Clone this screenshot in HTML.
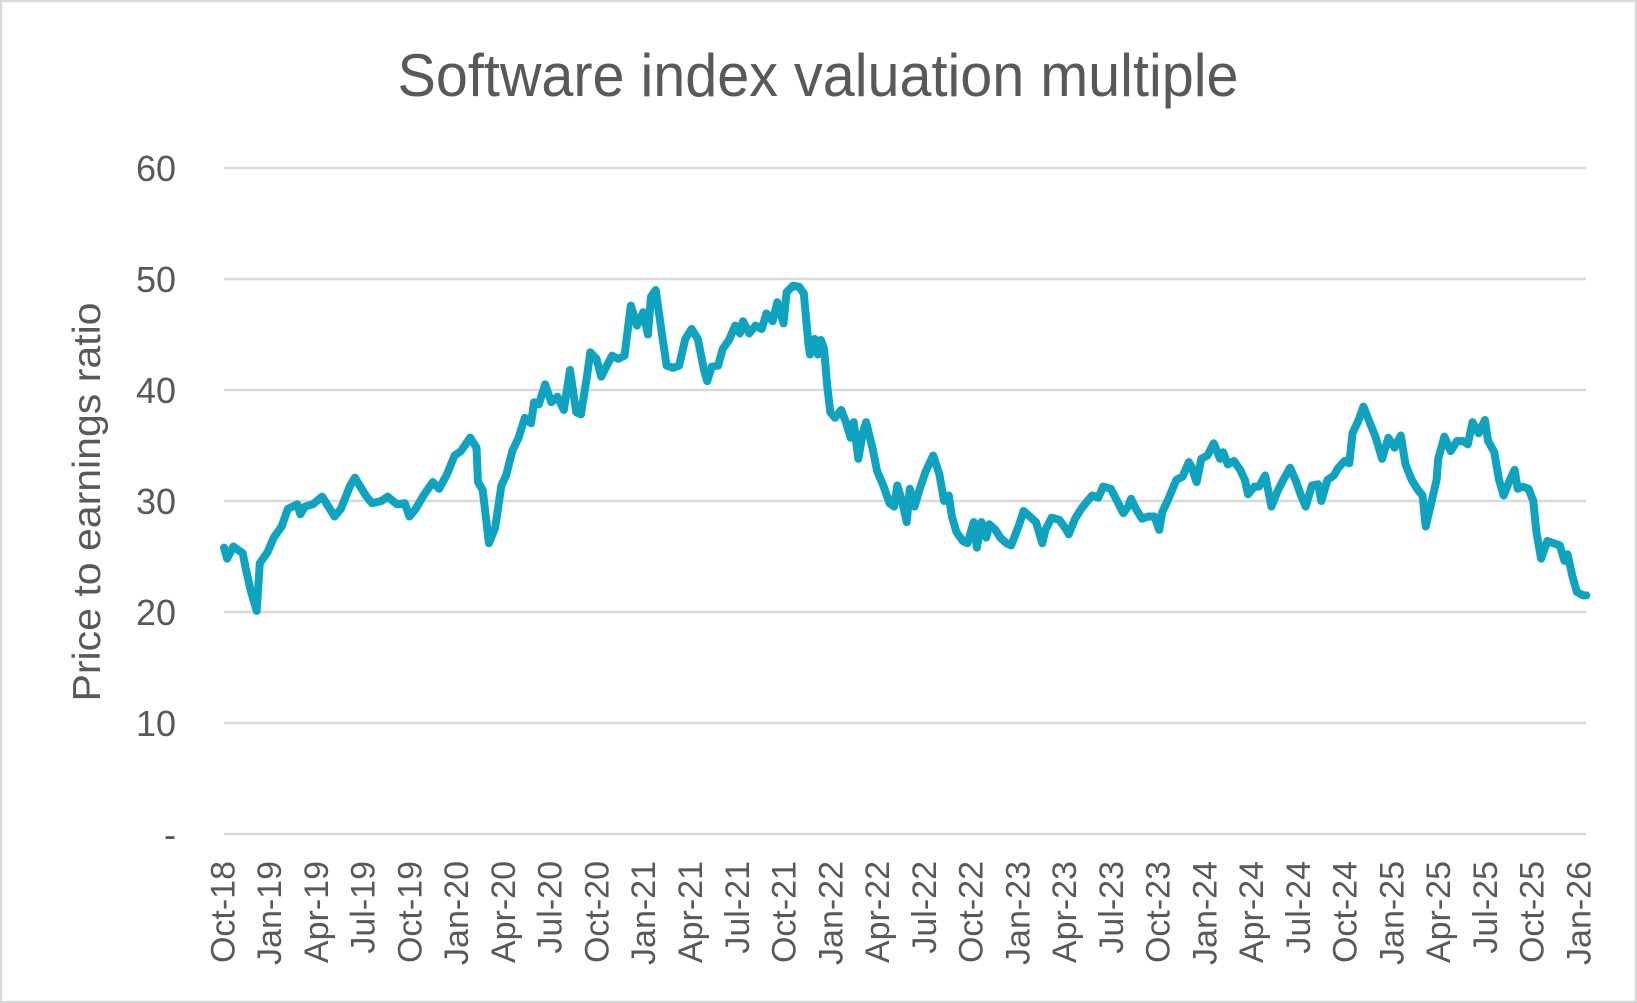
<!DOCTYPE html>
<html><head><meta charset="utf-8"><style>
html,body{margin:0;padding:0;background:#fff}
svg{display:block}
text{font-family:"Liberation Sans",sans-serif;fill:#595959}
</style></head><body>
<svg id="chart" width="1637" height="1003" viewBox="0 0 1637 1003" xmlns="http://www.w3.org/2000/svg">
<rect x="1" y="1" width="1635" height="1001" fill="#fff" stroke="#d9d9d9" stroke-width="2.5"/>
<text x="818" y="96" font-size="60" text-anchor="middle" textLength="841" lengthAdjust="spacingAndGlyphs">Software index valuation multiple</text>
<text transform="translate(100,502) rotate(-90)" font-size="39" text-anchor="middle" textLength="399" lengthAdjust="spacingAndGlyphs">Price to earnings ratio</text>
<g id="grid"></g>
<g id="yticks"></g>
<g id="xticks"></g>
<g id="series"></g>
</svg>
<script>
// months since Oct-2018
const months = [0.1,0.3,0.7,1.3,1.5,1.8,2.2,2.4,2.9,3.3,3.8,4.2,4.8,5.0,5.3,5.8,6.4,6.8,7.2,7.6,8.2,8.5,8.8,9.2,9.6,10.2,10.6,11.2,11.7,12.0,12.4,12.9,13.5,13.9,14.4,14.9,15.3,15.9,16.3,16.4,16.7,17.1,17.5,17.9,18.2,18.6,19.0,19.4,19.8,20.0,20.3,20.7,21.1,21.5,21.9,22.3,22.7,23.0,23.4,23.6,24.0,24.3,24.7,25.0,25.4,25.8,26.2,26.6,27.0,27.3,27.5,27.8,28.2,28.5,28.9,29.3,29.7,30.1,30.5,30.9,31.1,31.4,31.8,32.1,32.5,32.9,33.2,33.4,33.8,34.2,34.6,34.9,35.3,35.6,36.0,36.2,36.6,37.0,37.3,37.6,37.7,38.0,38.2,38.4,38.6,38.8,39.0,39.3,39.7,40.0,40.3,40.5,40.8,41.1,41.3,41.7,42.0,42.4,42.8,43.1,43.3,43.6,43.9,44.1,44.4,44.7,45.1,45.6,46.0,46.3,46.6,46.8,47.1,47.5,47.8,48.2,48.4,48.7,49.0,49.2,49.6,49.9,50.3,50.6,50.8,51.1,51.4,51.8,52.2,52.6,52.8,53.2,53.7,54.1,54.3,54.7,55.1,55.5,55.8,56.2,56.5,57.0,57.4,57.8,58.1,58.3,58.6,59.0,59.4,59.8,60.1,60.3,60.7,61.2,61.6,62.0,62.2,62.5,62.8,63.2,63.6,64.0,64.2,64.5,64.9,65.3,65.6,65.8,66.2,66.5,66.9,67.3,67.7,68.1,68.5,68.9,69.2,69.5,69.9,70.3,70.5,70.9,71.3,71.6,72.0,72.3,72.5,72.9,73.2,73.6,74.0,74.4,74.8,75.2,75.6,75.9,76.3,76.7,77.0,77.2,77.5,77.9,78.0,78.4,78.8,79.2,79.6,79.9,80.2,80.6,81.0,81.2,81.6,81.9,82.2,82.6,82.9,83.1,83.4,83.8,84.1,84.3,84.6,85.0,85.4,85.8,86.1,86.3,86.6,86.9,87.3,87.5];
const peRatio = [25.8,24.8,25.9,25.3,23.9,22.0,20.1,24.4,25.4,26.7,27.7,29.3,29.7,28.8,29.5,29.7,30.4,29.5,28.6,29.3,31.4,32.1,31.4,30.5,29.8,30.0,30.4,29.7,29.8,28.6,29.3,30.5,31.7,31.1,32.4,34.1,34.5,35.7,34.8,31.7,31.0,26.2,27.6,31.4,32.3,34.5,35.7,37.5,37.0,38.9,38.7,40.5,38.9,39.4,38.2,41.8,38.0,37.8,41.3,43.4,42.8,41.2,42.3,43.1,42.8,43.1,47.6,45.8,47.0,45.0,48.4,49.0,45.0,42.2,42.0,42.2,44.6,45.5,44.6,41.8,40.8,42.1,42.2,43.7,44.5,45.8,45.1,46.2,45.1,45.8,45.5,46.9,46.2,47.9,46.0,48.8,49.4,49.3,48.7,44.1,43.2,44.6,43.2,44.5,43.7,40.4,38.0,37.5,38.2,37.1,35.7,37.1,33.8,36.2,37.1,34.8,32.7,31.4,29.8,29.5,31.4,30.0,28.1,31.1,29.5,30.9,32.6,34.1,32.4,30.0,30.5,28.6,27.2,26.4,26.2,28.1,25.8,28.1,26.7,27.9,27.4,26.7,26.2,26.0,26.7,27.8,29.1,28.6,28.1,26.2,27.4,28.5,28.3,27.5,27.0,28.4,29.3,30.0,30.5,30.3,31.3,31.1,30.0,28.9,29.5,30.2,29.3,28.4,28.6,28.6,27.4,29.0,30.2,31.9,32.2,33.5,33.0,31.7,33.8,34.1,35.2,33.8,34.4,33.3,33.6,32.8,31.9,30.6,31.3,31.3,32.3,29.5,30.9,32.0,33.0,31.7,30.5,29.5,31.4,31.5,30.0,31.9,32.3,33.0,33.6,33.4,36.1,37.3,38.5,37.1,35.7,33.8,35.7,34.8,35.9,33.3,31.9,31.0,30.5,27.7,29.5,31.9,33.8,35.8,34.5,35.4,35.4,35.1,37.1,36.1,37.3,35.4,34.4,31.9,30.5,31.9,32.8,31.1,31.3,31.1,30.0,27.2,24.8,26.4,26.2,26.0,24.6,25.2,23.3,21.8,21.5,21.5];
const yTicks = [0,10,20,30,40,50,60];
const yTickLabels = ["-","10","20","30","40","50","60"];
const xTickLabels = ["Oct-18","Jan-19","Apr-19","Jul-19","Oct-19","Jan-20","Apr-20","Jul-20","Oct-20","Jan-21","Apr-21","Jul-21","Oct-21","Jan-22","Apr-22","Jul-22","Oct-22","Jan-23","Apr-23","Jul-23","Oct-23","Jan-24","Apr-24","Jul-24","Oct-24","Jan-25","Apr-25","Jul-25","Oct-25","Jan-26"];

const NS = "http://www.w3.org/2000/svg";
const PL = 224, PR = 1586, Y0 = 834, Y60 = 168;
function xScale(m){ return 222.4 + m * 15.587; }
function yScale(v){ return Y0 - (v / 60) * (Y0 - Y60); }

const grid = document.getElementById('grid');
const yt = document.getElementById('yticks');
yTicks.forEach((v, i) => {
  const l = document.createElementNS(NS, 'line');
  
  
  l.setAttribute('x1', PL); l.setAttribute('x2', PR);
  l.setAttribute('y1', yScale(v)); l.setAttribute('y2', yScale(v));
  l.setAttribute('stroke', '#d9d9d9'); l.setAttribute('stroke-width', '2.5');
  grid.appendChild(l);
  const t = document.createElementNS(NS, 'text');
  
  
  t.setAttribute('x', 176); t.setAttribute('y', yScale(v) + 13);
  t.setAttribute('text-anchor', 'end'); t.setAttribute('font-size', '36');
  t.textContent = yTickLabels[i];
  yt.appendChild(t);
});

const xt = document.getElementById('xticks');
xTickLabels.forEach((s, i) => {
  const x = xScale(i * 3);
  const t = document.createElementNS(NS, 'text');
  
  
  t.setAttribute('transform', 'translate(' + (x + 12) + ',861) rotate(-90)');
  t.setAttribute('text-anchor', 'end'); t.setAttribute('font-size', '34');
  t.textContent = s;
  xt.appendChild(t);
});

const pts = months.map((m, i) => xScale(m).toFixed(1) + ',' + yScale(peRatio[i]).toFixed(1));
const p = document.createElementNS(NS, 'polyline');


p.setAttribute('points', pts.join(' '));
p.setAttribute('fill', 'none'); p.setAttribute('stroke', '#0fa3bf');
p.setAttribute('stroke-width', '8'); p.setAttribute('stroke-linejoin', 'round'); p.setAttribute('stroke-linecap', 'round');
document.getElementById('series').appendChild(p);
</script>
</body></html>
